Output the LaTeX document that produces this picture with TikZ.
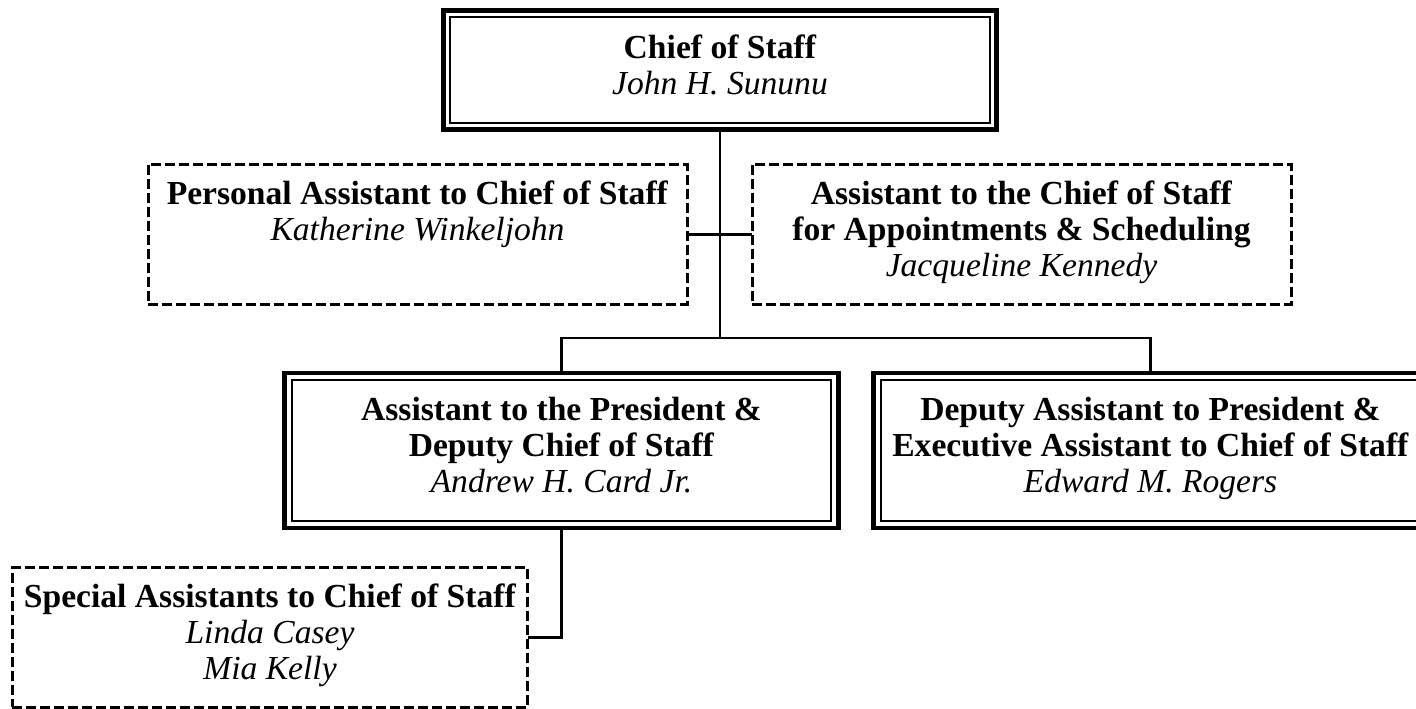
\documentclass[tikz,border=0pt]{standalone}
\usepackage{fontspec}
\setmainfont{Liberation Serif}
\usetikzlibrary{positioning}
\tikzset{
	x=0.5pt, y=-0.5pt, % one unit is one pixel of the picture, y runs down
	every node/.style={font=\fontsize{16.8}{18}\selectfont, align=center, outer sep=0pt,
		execute at begin node=\strut, execute at end node=\strut}, % every line of text gets the same height
	officer/.style={draw, line width=2.4pt, minimum width=276.75pt, inner ysep=12.25pt}, % outer line of the double boxes
	innerline/.style={line width=1.1pt}, % inner line of the double boxes
	aide/.style={draw, line width=1.5pt, dash pattern=on 5pt off 2pt, minimum width=269.5pt, inner ysep=8.25pt}, % the dashed boxes
	link/.style={line width=1.3pt}, % lines between the boxes
}
\begin{document}
\begin{tikzpicture}
	\useasboundingbox (0,0) rectangle (1416,708);
	\clip (0,0) rectangle (1416,708);
	\node[officer] (cos) at (720,70) {\textbf{Chief of Staff}\\\textit{John H. Sununu}};
	\node[aide] (pa) at (417.5,234.5) {\textbf{Personal Assistant to Chief of Staff}\\\textit{Katherine Winkeljohn}\\};
	\node[aide, right=32.5pt of pa] (appt) {\textbf{Assistant to the Chief of Staff}\\\textbf{for Appointments \& Scheduling}\\\textit{Jacqueline Kennedy}};
	\node[officer] (dcos) at (561.5,450.5) {\textbf{Assistant to the President \&}\\\textbf{Deputy Chief of Staff}\\\textit{Andrew H. Card Jr.}};
	\node[officer, right=17.75pt of dcos] (exa) {\textbf{Deputy Assistant to President \&}\\\textbf{Executive Assistant to Chief of Staff}\\\textit{Edward M. Rogers}};
	\node[aide, minimum width=257.75pt] (spa) at (270,637.5) {\textbf{Special Assistants to Chief of Staff}\\\textit{Linda Casey}\\\textit{Mia Kelly}};
	\foreach \n in {cos,dcos,exa}
		\draw[innerline] ([shift={(3.5pt,-3.5pt)}]\n.north west) rectangle ([shift={(-3.5pt,3.5pt)}]\n.south east);
	\coordinate (bar) at (720,338);
	\draw[link] (cos) -- (bar)
			(bar) -| (dcos)
			(bar) -| (exa)
			(pa) -- (appt)
			(dcos) |- (spa);
\end{tikzpicture}
\end{document}
